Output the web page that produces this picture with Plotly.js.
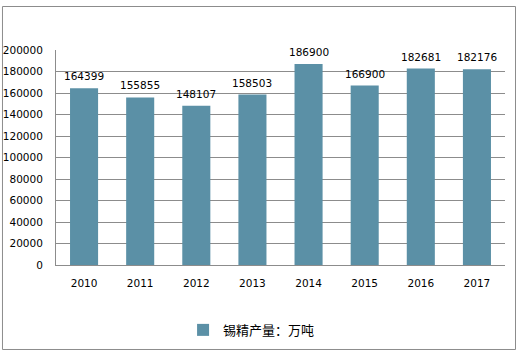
<!DOCTYPE html>
<html><head><meta charset="utf-8">
<script src="https://cdn.plot.ly/plotly-3.0.1.min.js"></script>
<style>body{margin:0;padding:0;background:#fff}#chart{width:521px;height:353px}</style>
</head><body><div id="chart"></div>
<script>
const years = ['2010','2011','2012','2013','2014','2015','2016','2017'];
const output = [164399,155855,148107,158503,186900,166900,182681,182176];
const labels = output.map(String);
const yTicks = [0,20000,40000,60000,80000,100000,120000,140000,160000,180000,200000];
const seriesName = '锡精产量：万吨';

const numFont = {family:'DejaVu Sans, Verdana, sans-serif', size:10.5, color:'#000'};
const trace = {
  type:'bar', x:years, y:output, name:seriesName,
  marker:{color:'#5B90A6'}, showlegend:true, hoverinfo:'none'
};
const annotations = years.map((yr,i)=>({
  x:i, y:output[i], text:labels[i], showarrow:false,
  xref:'x', yref:'y', yanchor:'bottom', yshift:4, font:numFont
}));
const layout = {
  width:521, height:353,
  margin:{l:56, r:16, t:50, b:88, autoexpand:false},
  paper_bgcolor:'#fff', plot_bgcolor:'#fff',
  bargap:0.5,
  xaxis:{type:'category', range:[-0.5, years.length-0.5], showgrid:false, showline:true, linecolor:'#8c8c8c', linewidth:1,
    ticks:'', tickfont:numFont, ticklabelstandoff:8, fixedrange:true},
  yaxis:{range:[0,200000], tickvals:yTicks, ticktext:yTicks.map(String),
    showgrid:true, gridcolor:'#8c8c8c', gridwidth:1, showline:true, linecolor:'#8c8c8c',
    zeroline:false, ticks:'', tickfont:numFont, ticklabelstandoff:10, fixedrange:true},
  legend:{orientation:'h', x:0.283, xanchor:'left', y:-0.302, yanchor:'middle',
    font:{family:'Noto Sans CJK SC, sans-serif', size:13, color:'#000'}, itemwidth:30},
  annotations:annotations,
  shapes:[{type:'rect', xref:'paper', yref:'paper', x0:-0.1192, x1:1.0234, y0:-0.393, y1:1.2023,
    line:{color:'#8c8c8c', width:1}, fillcolor:'rgba(0,0,0,0)', layer:'above'}]
};
Plotly.newPlot('chart',[trace],layout,{displayModeBar:false, staticPlot:true});
</script></body></html>
